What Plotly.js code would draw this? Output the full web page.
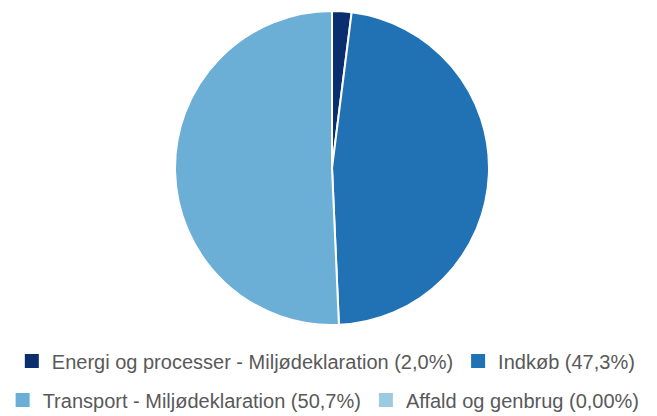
<!DOCTYPE html>
<html>
<head>
<meta charset="utf-8">
<script src="https://cdn.plot.ly/plotly-3.0.1.min.js"></script>
<style>html,body{margin:0;padding:0;background:#fff;}#chart{width:657px;height:416px;}</style>
</head>
<body>
<div id="chart"></div>
<script>
const categories = ["Energi og processer - Miljødeklaration", "Indkøb", "Transport - Miljødeklaration", "Affald og genbrug"];
const shareLabels = ["2,0%", "47,3%", "50,7%", "0,00%"];
const values = [2.0, 47.3, 50.7, 0];
const colors = ["#0b2f6e", "#2171b5", "#6baed6", "#9ecae1"];

const legendLabels = categories.map((c, i) => c + " (" + shareLabels[i] + ")");

// Legend rows in the reference: first two categories, then last two.
const rowA = [0, 1], rowB = [2, 3];
const transparent = "rgba(0,0,0,0)";
const mainDomain = { x: [0.2664, 0.7443], y: [0.2187, 0.9736] };
// legend-only traces sit in a tiny domain hidden underneath the main pie
const hiddenDomain = { x: [0.5, 0.505], y: [0.6, 0.607] };

function legendTrace(idx, legendId) {
  return {
    type: "pie",
    labels: idx.map(i => legendLabels[i]),
    values: idx.map(i => values[i]),
    sort: false,
    direction: "clockwise",
    textinfo: "none",
    hoverinfo: "none",
    marker: { colors: idx.map(i => colors[i]), line: { color: idx.map(i => colors[i]), width: 2 } },
    domain: hiddenDomain,
    legend: legendId,
    showlegend: true
  };
}

const mainPie = {
  type: "pie",
  labels: legendLabels,
  values: values,
  sort: false,
  direction: "clockwise",
  rotation: 0,
  textinfo: "none",
  hoverinfo: "label",
  marker: { colors: colors, line: { color: "#ffffff", width: 2 } },
  domain: mainDomain,
  showlegend: false
};

const traces = [legendTrace(rowA, "legend"), legendTrace(rowB, "legend2"), mainPie];

const legendFont = { family: "'Liberation Sans', Arial, sans-serif", size: 20, color: "#595959" };

const layout = {
  width: 657, height: 416,
  margin: { l: 0, r: 0, t: 0, b: 0, autoexpand: false },
  paper_bgcolor: "#ffffff",
  showlegend: true,
  legend: {
    orientation: "h", x: 0.018, xanchor: "left", y: 0.132, yanchor: "middle",
    font: legendFont, traceorder: "normal", itemclick: false, bgcolor: transparent
  },
  legend2: {
    orientation: "h", x: 0.004, xanchor: "left", y: 0.0385, yanchor: "middle",
    font: legendFont, traceorder: "normal", itemclick: false, bgcolor: transparent
  }
};

Plotly.newPlot("chart", traces, layout, { displayModeBar: false, staticPlot: true });
</script>
</body>
</html>
